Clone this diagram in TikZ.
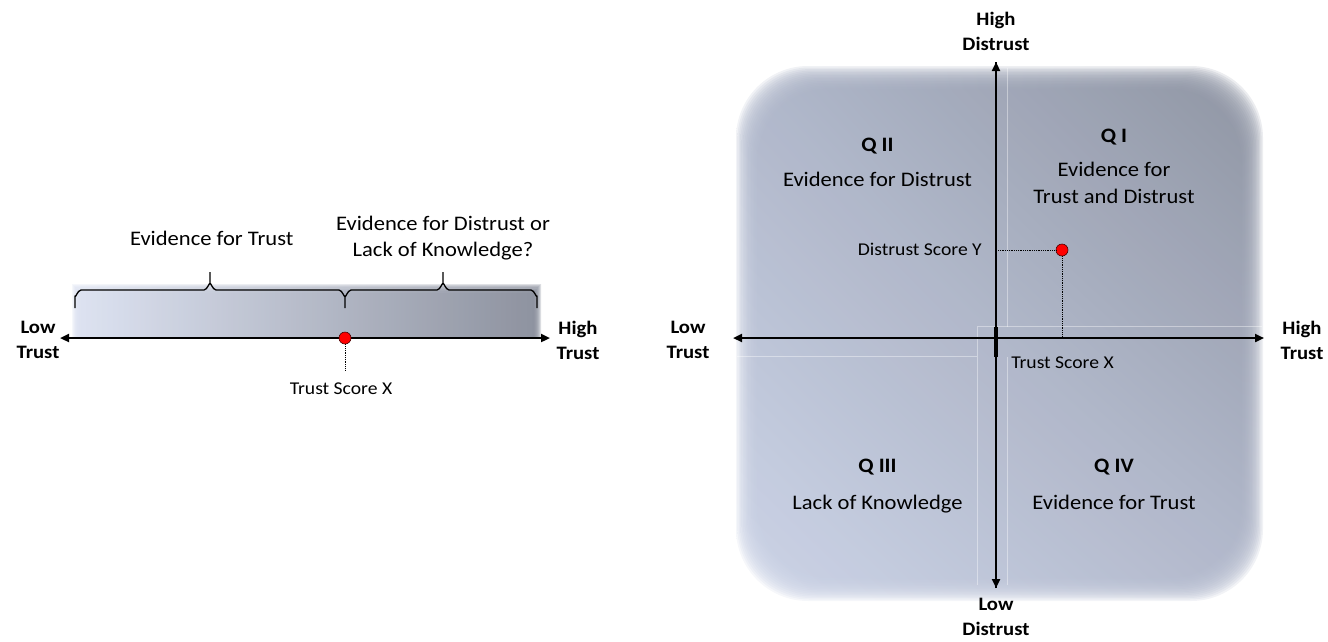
\documentclass[tikz,border=0pt]{standalone}
\usepackage{fontspec}
\setmainfont{Carlito}[FakeStretch=1.09]
\usetikzlibrary{arrows.meta,shadings}
\definecolor{bandL}{HTML}{DBE1F1}
\definecolor{bandR}{HTML}{858A98}
\definecolor{panLL}{HTML}{CAD2E6}
\definecolor{panUR}{HTML}{8C92A1}
\definecolor{panUL}{HTML}{ACB4C8}
\definecolor{panLR}{HTML}{AFB6CA}
\definecolor{dotred}{HTML}{FF0000}
\begin{document}
\begin{tikzpicture}[x=1pt,y=-1pt,
  axis/.style={line width=2.2pt,{Triangle[length=9pt,width=8pt]}-{Triangle[length=9pt,width=8pt]}},
  axisend/.style={line width=2.2pt,-{Triangle[length=9pt,width=8pt]}},
  endlbl/.style={font=\bfseries\fontsize{19}{25}\selectfont,align=center,inner sep=0pt},
  txt/.style={font=\fontsize{20.7}{26.7}\selectfont,align=center,inner sep=0pt,anchor=base},
  qlbl/.style={font=\bfseries\fontsize{20.5}{25}\selectfont,inner sep=0pt,anchor=base},
  small/.style={font=\fontsize{18}{22}\selectfont,inner sep=0pt,anchor=base},
  guide/.style={densely dotted,line width=0.8pt},
  brace/.style={line width=1.3pt,line join=round},
  score/.style={circle,fill=dotred,draw=black!70!red,line width=0.6pt,minimum size=12pt,inner sep=0pt},
  faint/.style={white,opacity=0.4,line width=0.6pt}]
\useasboundingbox (0,0) rectangle (1328,641);

% ---------- left panel ----------
\foreach \i in {0,...,7}
  \shade[opacity=0.28,left color=bandL,right color=bandR]
    (72+1*\i,284+1.3*\i) rectangle (541-1*\i,338);

% braces
\draw[brace] (75,308) -- (75,296) to[out=-90,in=180] (81,290) -- (204,290)
  to[out=0,in=90] (210,284) -- (210,272);
\draw[brace] (210,284) to[out=90,in=180] (216,290) -- (339,290)
  to[out=0,in=-90] (345,296) -- (345,308);
\draw[brace] (345,296) to[out=-90,in=180] (351,290) -- (437,290)
  to[out=0,in=90] (443,284) -- (443,272);
\draw[brace] (443,284) to[out=90,in=180] (449,290) -- (531,290)
  to[out=0,in=-90] (537,296) -- (537,308);

\node[txt] (evT) at (211.7,245) {Evidence for Trust};
\node[txt] (evD) at (443,256.7) {Evidence for Distrust or\\Lack of Knowledge?};

\coordinate (lL) at (60,338);
\coordinate (lR) at (550,338);
\draw[axis] (lL) -- (lR);
\node[endlbl] (lowT) at (38,340) {Low\\Trust};
\node[endlbl] (highT) at (578,340) {High\\Trust};

\node[score] (dotX) at (345,338) {};
\node[small] (tsX) at (341,394.3) {Trust Score X};
\draw[guide] (dotX.south) -- (345,371);

% ---------- right panel ----------
\foreach \i in {0,...,15}
  \shade[opacity=0.17,upper left=panUL,upper right=panUR,lower left=panLL,lower right=panLR,
         rounded corners=72pt]
    (736+1.4*\i,66+1.5*\i) rectangle (1263-1.4*\i,601-1.5*\i);

% faint artifact lines
\draw[faint] (1007,68) -- (1007,326.7);
\draw[faint] (977,326.7) -- (977,585);
\draw[faint] (1007,356.7) -- (1007,585);
\draw[faint] (977,326.7) -- (1262,326.7);
\draw[faint] (737,356.7) -- (977,356.7);

\coordinate (vT) at (996,62);
\coordinate (vB) at (996,588);
\coordinate (hL) at (733,338);
\coordinate (hR) at (1264,338);
\draw[axisend] (vB) -- (vT);
\draw[axisend] (vT) -- (vB);
\draw[axis] (hL) -- (hR);
\draw[line width=3.6pt] (996,326.7) -- (996,356.7);

\node[endlbl] (highD) at (996,31) {High\\Distrust};
\node[endlbl] (lowD) at (996,617) {Low\\Distrust};
\node[endlbl] (lowT2) at (688,340) {Low\\Trust};
\node[endlbl] (highT2) at (1302,340) {High\\Trust};

\node[qlbl] (q2) at (877.5,151.7) {Q II};
\node[txt] (q2t) at (877.5,186.7) {Evidence for Distrust};
\node[qlbl] (q1) at (1114,142) {Q I};
\node[txt] (q1t) at (1114,203) {Evidence for\\Trust and Distrust};
\node[qlbl] (q3) at (877.5,472) {Q III};
\node[txt] (q3t) at (877.5,509) {Lack of Knowledge};
\node[qlbl] (q4) at (1114,472) {Q IV};
\node[txt] (q4t) at (1114,509) {Evidence for Trust};

\node[score] (dotXY) at (1062,250) {};
\node[small,anchor=base east] (dsY) at (982,255.7) {Distrust Score Y};
\node[small] (tsX2) at (1062.5,368.3) {Trust Score X};
\draw[guide] (998,250) -- (dotXY.west);
\draw[guide] (dotXY.south) -- (1062,338);
\end{tikzpicture}
\end{document}
